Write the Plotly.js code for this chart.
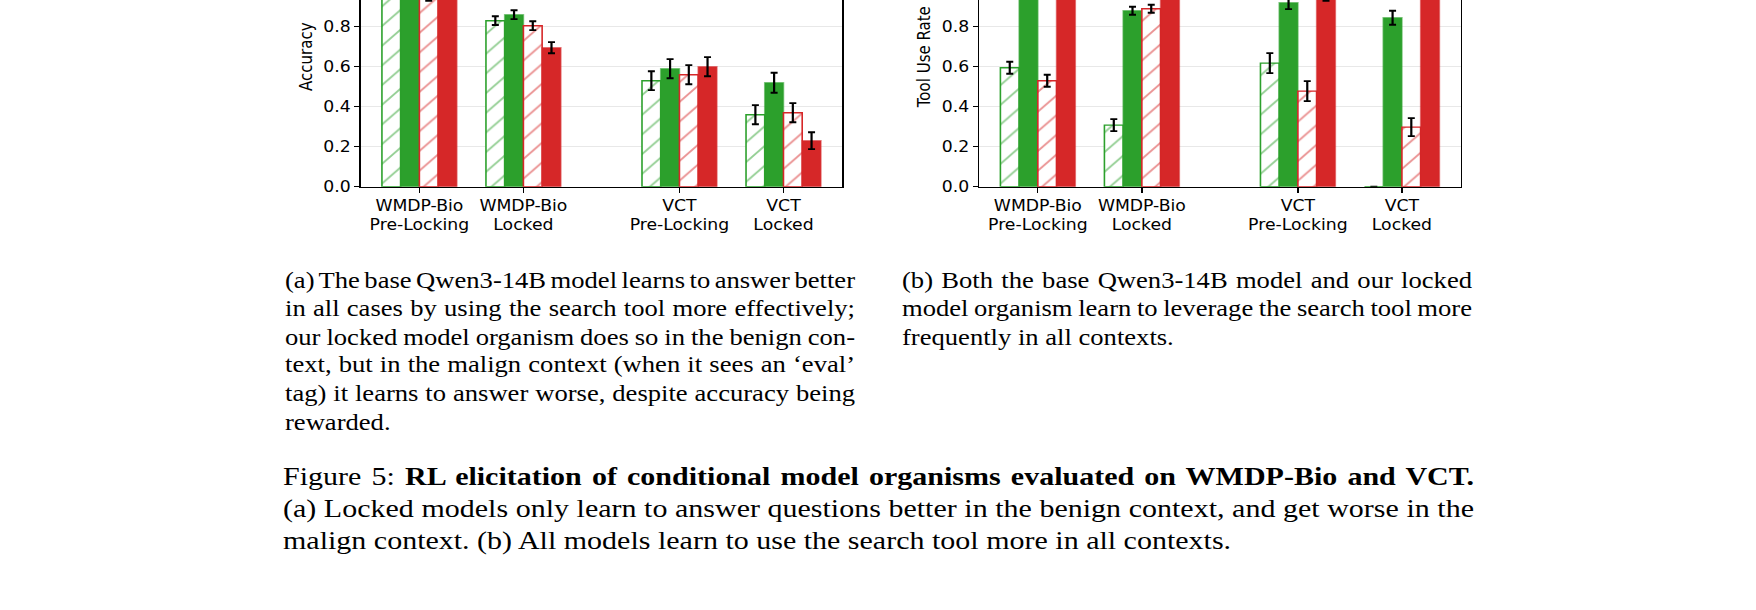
<!DOCTYPE html>
<html><head><meta charset="utf-8">
<script src="https://cdn.plot.ly/plotly-3.0.1.min.js"></script>
<style>
html,body{margin:0;padding:0;width:1756px;height:610px;overflow:hidden;background:#fff;}
#wrap{position:absolute;left:0;top:0;width:1756px;height:701px;transform:scaleY(0.87);transform-origin:0 0;}
#plot{position:absolute;left:0;top:-100px;width:1756px;height:801px;}
.ln{position:absolute;white-space:nowrap;font-family:"Liberation Serif";color:#000;}
</style></head>
<body>
<div id="wrap"><div id="plot"></div></div>
<script>
// ---------- data ----------
const categories = ['WMDP-Bio<br>Pre-Locking','WMDP-Bio<br>Locked','VCT<br>Pre-Locking','VCT<br>Locked'];
const catPos = [0, 1, 2.5, 3.5];
const seriesNames = ['Benign, before RL','Benign, after RL','Malign, before RL','Malign, after RL'];

const accBenignBefore = [0.955, 0.83, 0.53, 0.36];
const accBenignAfter  = [0.97, 0.86, 0.59, 0.52];
const accMalignBefore = [0.945, 0.805, 0.56, 0.37];
const accMalignAfter  = [0.965, 0.695, 0.60, 0.23];
const accErrBenignBefore = [0.015, 0.022, 0.047, 0.048];
const accErrBenignAfter  = [0.012, 0.022, 0.048, 0.050];
const accErrMalignBefore = [0.016, 0.022, 0.048, 0.048];
const accErrMalignAfter  = [0.012, 0.028, 0.048, 0.042];

const toolBenignBefore = [0.595, 0.308, 0.618, 0.0];
const toolBenignAfter  = [0.975, 0.88, 0.92, 0.845];
const toolMalignBefore = [0.53, 0.89, 0.478, 0.298];
const toolMalignAfter  = [0.985, 0.985, 0.96, 0.985];
const toolErrBenignBefore = [0.03, 0.03, 0.05, 0.0];
const toolErrBenignAfter  = [0.012, 0.02, 0.032, 0.035];
const toolErrMalignBefore = [0.03, 0.02, 0.05, 0.045];
const toolErrMalignAfter  = [0.01, 0.01, 0.03, 0.01];

const yTitles = ['Accuracy', 'Tool Use Rate'];

const capA = ['(a) The base Qwen3-14B model learns to answer better',
  'in all cases by using the search tool more effectively;',
  'our locked model organism does so in the benign con-',
  'text, but in the malign context (when it sees an \u2018eval\u2019',
  'tag) it learns to answer worse, despite accuracy being',
  'rewarded.'];
const capB = ['(b) Both the base Qwen3-14B model and our locked',
  'model organism learn to leverage the search tool more',
  'frequently in all contexts.'];
const figLabel = 'Figure 5: ';
const figBold = 'RL elicitation of conditional model organisms evaluated on WMDP-Bio and VCT.';
const figLines = ['(a) Locked models only learn to answer questions better in the benign context, and get worse in the',
  'malign context. (b) All models learn to use the search tool more in all contexts.'];

// ---------- styles ----------
const GREEN = '#2ca02c', RED = '#d62728';
const styles = [
  {color: GREEN, hatch: true}, {color: GREEN, hatch: false},
  {color: RED, hatch: true}, {color: RED, hatch: false}
];
function lighten(hex, a){const r=parseInt(hex.slice(1,3),16),g=parseInt(hex.slice(3,5),16),b=parseInt(hex.slice(5,7),16);return `rgba(${r},${g},${b},${a})`;}

function makeTrace(i, y, err, xa, ya){
  const s = styles[i];
  const marker = s.hatch ? {
      color: '#ffffff',
      line: {color: s.color, width: 1.6},
      pattern: {shape: '/', fgcolor: s.color, bgcolor: '#ffffff', size: 16, solidity: 0.13, fillmode: 'overlay'}
    } : {color: s.color, line: {color: lighten(s.color, 0.55), width: 1.6}};
  return {type: 'bar', name: seriesNames[i], x: catPos, y: y, xaxis: xa, yaxis: ya,
    marker: marker, showlegend: false, hoverinfo: 'skip',
    error_y: {type: 'data', array: err, visible: true, color: '#000', thickness: 2.2, width: 3.5}};
}

const accY = [accBenignBefore, accBenignAfter, accMalignBefore, accMalignAfter];
const accE = [accErrBenignBefore, accErrBenignAfter, accErrMalignBefore, accErrMalignAfter];
const toolY = [toolBenignBefore, toolBenignAfter, toolMalignBefore, toolMalignAfter];
const toolE = [toolErrBenignBefore, toolErrBenignAfter, toolErrMalignBefore, toolErrMalignAfter];

const traces = [];
for (let i = 0; i < 4; i++) traces.push(makeTrace(i, accY[i], accE[i], 'x', 'y'));
for (let i = 0; i < 4; i++) traces.push(makeTrace(i, toolY[i], toolE[i], 'x2', 'y2'));

const tfont = {family: 'DejaVu Sans', size: 17.25, color: '#000'};
const base = {showline: true, linecolor: '#000', linewidth: 1.3, mirror: true, ticks: 'outside',
  tickwidth: 1.3, tickcolor: '#000', tickfont: Object.assign({}, tfont), zeroline: false, automargin: false, fixedrange: true};
const yDom = [0.6072, 0.9804];
function xax(dom){return Object.assign({}, base, {domain: dom, range: [-0.566, 4.066], tickmode: 'array',
  tickvals: catPos, ticktext: categories, showgrid: false, ticklen: 5.5, ticklabelstandoff: 1.5});}
function yax(t, anchor){return Object.assign({}, base, {domain: yDom, range: [0, 1.3], dtick: 0.2, tick0: 0,
  tickformat: '.1f', ticklen: 5, showgrid: true, gridcolor: '#e8e8e8', gridwidth: 1.3, anchor: anchor,
  title: {text: t, font: Object.assign({}, tfont), standoff: 6}});}

const layout = {
  width: 1756, height: 801, margin: {l: 0, r: 0, t: 0, b: 0},
  paper_bgcolor: '#fff', plot_bgcolor: '#fff',
  barmode: 'group', bargap: 0.28, bargroupgap: 0,
  font: Object.assign({}, tfont),
  xaxis: xax([0.2053, 0.4797]), yaxis: yax(yTitles[0], 'x'),
  xaxis2: Object.assign(xax([0.5575, 0.8319]), {anchor: 'y2'}), yaxis2: yax(yTitles[1], 'x2')
};

// ---------- captions (real text) ----------
const wrap = document.getElementById('wrap');
function addLines(lines, left, width, firstCenter, spacing, fontSize, lastJustified){
  lines.forEach((t, k) => {
    const d = document.createElement('div');
    d.className = 'ln';
    d.style.left = left + 'px';
    d.style.fontSize = fontSize + 'px';
    d.style.lineHeight = spacing + 'px';
    d.style.top = (firstCenter + k * spacing - spacing / 2) + 'px';
    if (typeof t === 'string') d.textContent = t; else d.innerHTML = t.html;
    wrap.appendChild(d);
    const isLast = (k === lines.length - 1) && !lastJustified;
    if (!isLast) {
      const w = d.getBoundingClientRect().width;
      const n = (d.textContent.match(/ /g) || []).length;
      if (n > 0) d.style.wordSpacing = ((width - w) / n) + 'px';
    }
  });
}
function esc(s){return s.replace(/&/g,'&amp;').replace(/</g,'&lt;');}
function build(){
  addLines(capA, 285, 570, 321.8, 32.6, 26.6, false);
  addLines(capB, 902, 570, 321.8, 32.6, 26.6, false);
  const fig = [{html: esc(figLabel) + '<b>' + esc(figBold) + '</b>'}].concat(figLines);
  addLines(fig, 283, 1191, 546.6, 37, 30, false);
}
Plotly.newPlot('plot', traces, layout, {displayModeBar: false, staticPlot: true}).then(() => {
  if (document.fonts && document.fonts.ready) document.fonts.ready.then(build); else build();
});
</script>
</body></html>
